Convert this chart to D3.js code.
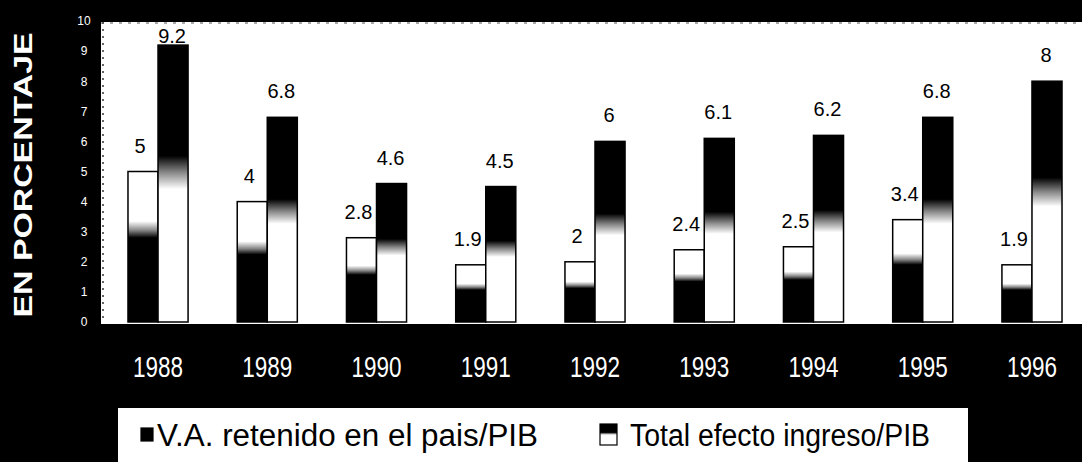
<!DOCTYPE html>
<html lang="es">
<head>
    <meta charset="UTF-8">
    <title>V.A. retenido y efecto ingreso / PIB</title>
    <script src="https://d3js.org/d3.v7.min.js"></script>
    <style>
        body { margin: 0; background-color: #000; }
        svg { display: block; }
        .axis text { font-family: 'Liberation Sans', Arial, sans-serif; fill: #fff; }
        .value-label { font-family: 'Liberation Sans', Arial, sans-serif; font-size: 20px; fill: #000; }
    </style>
</head>
<body>
    <svg id="chart" width="1082" height="462"></svg>

    <script>
        // Chart values
        const years = ["1988", "1989", "1990", "1991", "1992", "1993", "1994", "1995", "1996"];
        const vaRetenido = [5, 4, 2.8, 1.9, 2, 2.4, 2.5, 3.4, 1.9];
        const totalEfecto = [9.2, 6.8, 4.6, 4.5, 6, 6.1, 6.2, 6.8, 8];
        const yTicks = [0, 1, 2, 3, 4, 5, 6, 7, 8, 9, 10];
        const seriesNames = ["V.A. retenido en el pais/PIB", "Total efecto ingreso/PIB"];

        const svg = d3.select("#chart");
        const width = 1082, height = 462;
        const plot = { left: 101, right: 1089, top: 22 };

        svg.append("rect").attr("width", width).attr("height", height).attr("fill", "#000");

        // gradients: first series dark at the bottom, second dark at the top
        const defs = svg.append("defs");
        const gradA = defs.append("linearGradient").attr("id", "gradA")
            .attr("x1", 0).attr("y1", 0).attr("x2", 0).attr("y2", 1);
        [[0, "#fff"], [0.33, "#fff"], [0.39, "#888"], [0.44, "#000"], [1, "#000"]]
            .forEach(([o, c]) => gradA.append("stop").attr("offset", o).attr("stop-color", c));
        const gradB = defs.append("linearGradient").attr("id", "gradB")
            .attr("x1", 0).attr("y1", 0).attr("x2", 0).attr("y2", 1);
        [[0, "#000"], [0.4, "#000"], [0.46, "#888"], [0.52, "#fff"], [1, "#fff"]]
            .forEach(([o, c]) => gradB.append("stop").attr("offset", o).attr("stop-color", c));
        const fills = ["url(#gradA)", "url(#gradB)"];

        const y = d3.scaleLinear().domain([0, 10]).range([322, 21]);

        const x0 = d3.scaleBand().domain(years)
            .range([plot.left, plot.right])
            .paddingInner(0.45)
            .paddingOuter(0.247);
        const x1 = d3.scaleBand().domain([0, 1]).range([0, x0.bandwidth()]);

        // white plot area
        svg.append("rect")
            .attr("x", plot.left)
            .attr("y", plot.top)
            .attr("width", width - plot.left)
            .attr("height", y(0) + 2 - plot.top)
            .attr("fill", "#fff");
        svg.append("line")
            .attr("x1", plot.left + 2).attr("x2", plot.left + 2)
            .attr("y1", plot.top).attr("y2", y(0))
            .attr("stroke", "#000").attr("stroke-width", 1.2)
            .attr("stroke-dasharray", "2,5");
        svg.append("line")
            .attr("x1", plot.left).attr("x2", width)
            .attr("y1", plot.top + 1).attr("y2", plot.top + 1)
            .attr("stroke", "#555").attr("stroke-width", 1)
            .attr("stroke-dasharray", "3,6");

        // y axis ticks
        const yAxis = svg.append("g").attr("class", "axis")
            .attr("transform", `translate(${plot.left},0)`)
            .call(d3.axisLeft(y).tickValues(yTicks).tickSize(0).tickFormat(d3.format("d")));
        yAxis.select(".domain").remove();
        yAxis.selectAll("text")
            .attr("x", -17)
            .attr("text-anchor", "middle")
            .style("font-size", "12px");

        svg.append("text")
            .attr("transform", `translate(32,175) rotate(-90)`)
            .attr("text-anchor", "middle")
            .attr("textLength", 285)
            .attr("lengthAdjust", "spacingAndGlyphs")
            .style("font-family", "'Liberation Sans', Arial, sans-serif")
            .style("font-weight", "bold")
            .style("font-size", "26px")
            .style("fill", "#fff")
            .text("EN PORCENTAJE");

        // x axis: years
        const xAxis = svg.append("g").attr("class", "axis")
            .attr("transform", "translate(0,377)")
            .call(d3.axisBottom(x0).tickSize(0));
        xAxis.select(".domain").remove();
        xAxis.selectAll("text")
            .attr("y", 0).attr("dy", null)
            .attr("textLength", 50)
            .attr("lengthAdjust", "spacingAndGlyphs")
            .style("font-size", "29px");

        // bars
        const rows = years.map((yr, i) => ({ year: yr, values: [vaRetenido[i], totalEfecto[i]] }));
        const groups = svg.append("g").selectAll("g")
            .data(rows)
            .join("g")
            .attr("transform", d => `translate(${x0(d.year)},0)`);

        groups.selectAll("rect")
            .data(d => d.values.map((v, k) => ({ k, v })))
            .join("rect")
            .attr("x", d => x1(d.k))
            .attr("y", d => y(d.v))
            .attr("width", x1.bandwidth())
            .attr("height", d => y(0) - y(d.v))
            .attr("fill", d => fills[d.k])
            .attr("stroke", "#000")
            .attr("stroke-width", 1.5);

        groups.selectAll(".value-label")
            .data(d => d.values.map((v, k) => ({ k, v })))
            .join("text")
            .attr("class", "value-label")
            .attr("x", d => x1(d.k) + x1.bandwidth() / 2 - (d.k === 0 ? 3 : 1))
            .attr("y", d => Math.max(y(d.v) - 19, plot.top + 21))
            .attr("text-anchor", "middle")
            .text(d => d.v);

        // legend
        const legend = svg.append("g");
        legend.append("rect")
            .attr("x", 118).attr("y", 408)
            .attr("width", 850).attr("height", height - 408)
            .attr("fill", "#fff");

        const legendItems = [
            { name: seriesNames[0], sx: 141, sy: 428, sw: 12, sh: 13, tx: 157, tl: 381 },
            { name: seriesNames[1], sx: 600, sy: 424, sw: 17, sh: 21, tx: 630, tl: 300 }
        ];
        legendItems.forEach((d, k) => {
            legend.append("rect")
                .attr("x", d.sx).attr("y", d.sy)
                .attr("width", d.sw).attr("height", d.sh)
                .attr("fill", k === 0 ? "#000" : "url(#gradB)")
                .attr("stroke", "#000").attr("stroke-width", 1.2);
            legend.append("text")
                .attr("x", d.tx).attr("y", 446)
                .attr("textLength", d.tl)
                .attr("lengthAdjust", "spacingAndGlyphs")
                .style("font-family", "'Liberation Sans', Arial, sans-serif")
                .style("font-size", "31px")
                .style("fill", "#000")
                .text(d.name);
        });
    </script>
</body>
</html>
